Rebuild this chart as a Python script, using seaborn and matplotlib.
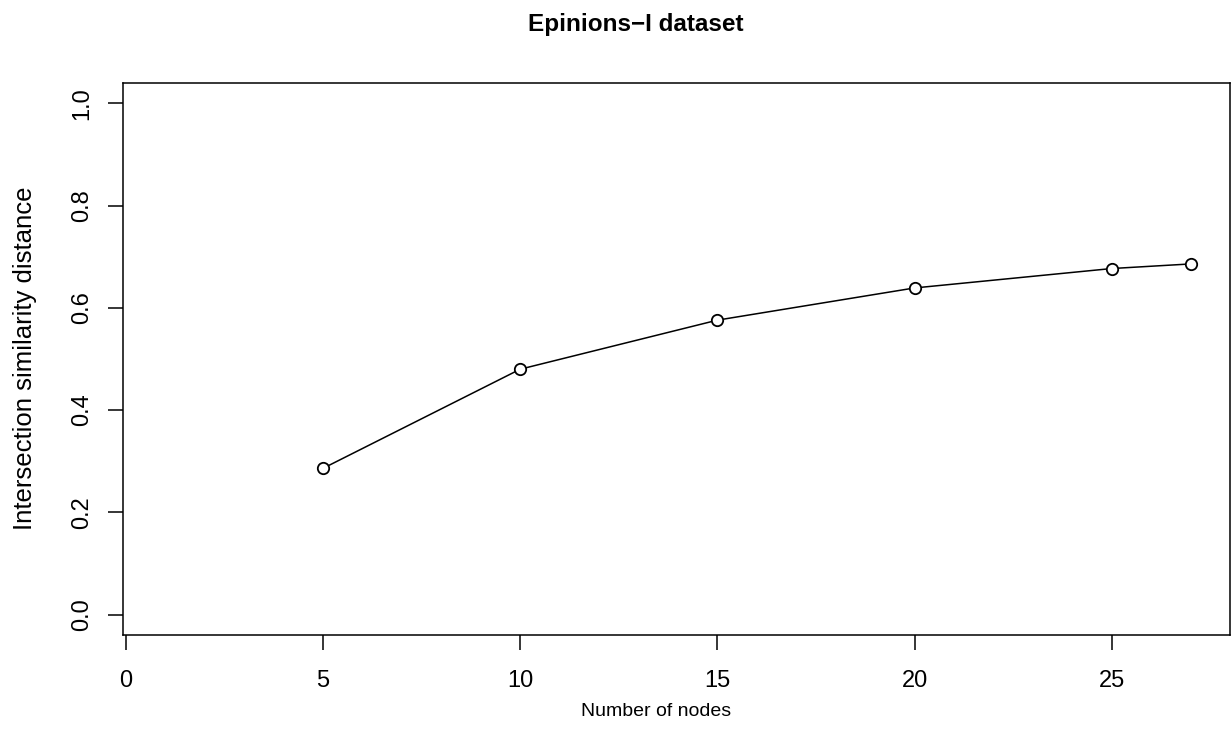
import matplotlib
matplotlib.use("Agg")
import matplotlib.pyplot as plt
import seaborn as sns
import pandas as pd

# Number of nodes vs. intersection similarity distance
nodes = [5, 10, 15, 20, 25, 27]
distance = [0.286, 0.480, 0.576, 0.639, 0.677, 0.686]
x_ticks = [0, 5, 10, 15, 20, 25]
y_ticks = [0.0, 0.2, 0.4, 0.6, 0.8, 1.0]
y_tick_labels = ["0.0", "0.2", "0.4", "0.6", "0.8", "1.0"]

title = "Epinions\u2212I dataset"
x_label = "Number of nodes"
y_label = "Intersection similarity distance"

sns.set_style("ticks")
plt.rcParams["font.family"] = ["Liberation Sans", "DejaVu Sans"]
plt.rcParams["text.color"] = "black"
plt.rcParams["axes.labelcolor"] = "black"
plt.rcParams["xtick.color"] = "black"
plt.rcParams["ytick.color"] = "black"

W, H = 1232, 752
fig = plt.figure(figsize=(W / 100, H / 100), dpi=100)
ax = fig.add_axes([123 / W, 1 - 635 / H, (1230 - 123) / W, (635 - 83) / H])

df = pd.DataFrame({"nodes": nodes, "distance": distance})
sns.lineplot(data=df, x="nodes", y="distance", ax=ax, color="black",
             linewidth=1.1, marker="o", markersize=8.2,
             markerfacecolor="white", markeredgecolor="black",
             markeredgewidth=1.3)

ax.set_xlim(-0.07, 28.0)
ax.set_ylim(-0.04, 1.04)
ax.set_xticks(x_ticks)
ax.set_xticklabels([str(t) for t in x_ticks])
ax.set_yticks(y_ticks)
ax.set_yticklabels(y_tick_labels, rotation=90, va="center")

for side in ["left", "right", "top", "bottom"]:
    ax.spines[side].set_visible(True)
    ax.spines[side].set_linewidth(1.1)
    ax.spines[side].set_color("black")

ax.tick_params(axis="both", length=10.5, width=1.1, color="black",
               labelsize=17, labelcolor="black", direction="out")
ax.tick_params(axis="x", pad=14.5)
ax.tick_params(axis="y", pad=11)
ax.set_xlabel("")
ax.set_ylabel("")
ax.grid(False)

fig.text(636 / W, 1 - 31 / H, title, ha="center", va="baseline",
         fontsize=17.5, fontweight="bold")
fig.text(656 / W, 1 - 712 / H, x_label, ha="center", va="center",
         fontsize=14)
fig.text(25 / W, 1 - 358 / H, y_label, ha="center", va="center",
         rotation=90, fontsize=18.5)

fig.savefig("out.png", dpi=100, facecolor="white")
